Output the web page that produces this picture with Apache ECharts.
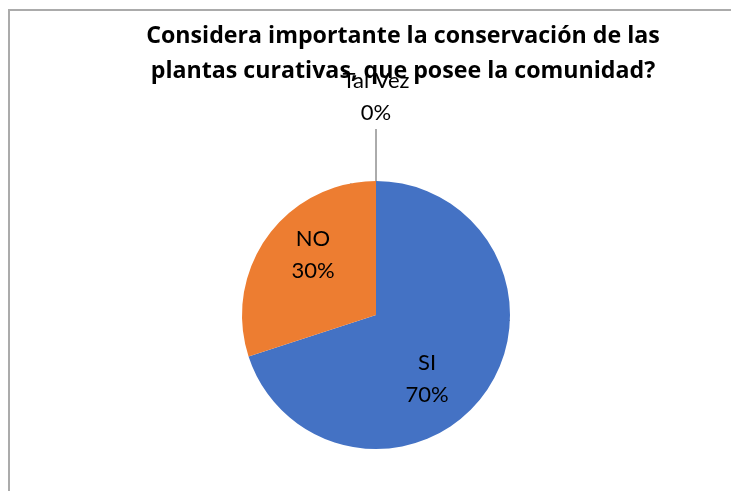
<!DOCTYPE html>
<html>
<head>
<meta charset="utf-8">
<script src="https://cdn.jsdelivr.net/npm/echarts@6/dist/echarts.min.js"></script>
<style>
html,body{margin:0;padding:0;background:#fff;}
#chart{width:731px;height:491px;}
</style>
</head>
<body>
<div id="chart"></div>
<script>
const titleText = 'Considera importante la conservación de las\nplantas curativas, que posee la comunidad?';
const categories = ['SI', 'NO', 'Tal Vez'];
const values = [70, 30, 0];
const colors = ['#4472C4', '#ED7D31', '#A5A5A5'];

const chart = echarts.init(document.getElementById('chart'));
const data = categories.map((c, i) => ({ name: c, value: values[i], itemStyle: { color: colors[i] } }));
const labelFont = { fontFamily: 'Lato', fontSize: 22, lineHeight: 32, color: '#000' };

chart.setOption({
  backgroundColor: '#fff',
  animation: false,
  graphic: [{
    type: 'rect', shape: { x: 9, y: 10, width: 900, height: 700 },
    style: { fill: 'none', stroke: '#ababab', lineWidth: 2 }, z: -1
  }],
  title: {
    text: titleText,
    left: 398, top: 14, textAlign: 'center', z: 1,
    textStyle: { fontFamily: 'Open Sans', fontWeight: 'bold', fontSize: 23.2, lineHeight: 35, color: '#000' }
  },
  series: [{
    type: 'pie',
    z: 5,
    center: [376, 315],
    radius: 134,
    startAngle: 90,
    clockwise: true,
    data: data,
    itemStyle: { borderWidth: 0 },
    label: Object.assign({
      show: true,
      position: 'inside',
      formatter: '{b}\n{d}%'
    }, labelFont),
    labelLine: { show: true, lineStyle: { color: '#595959', width: 1 } },
    emphasis: { disabled: true },
    labelLayout: function (p) {
      if (p.dataIndex === 0) return { x: 427, y: 379, align: 'center', verticalAlign: 'middle' };
      if (p.dataIndex === 1) return { x: 313, y: 255, align: 'center', verticalAlign: 'middle' };
      return {
        x: 376, y: 129, align: 'center', verticalAlign: 'bottom',
        labelLinePoints: [[376, 181], [376, 128], [376, 128]]
      };
    }
  }]
});
</script>
</body>
</html>
